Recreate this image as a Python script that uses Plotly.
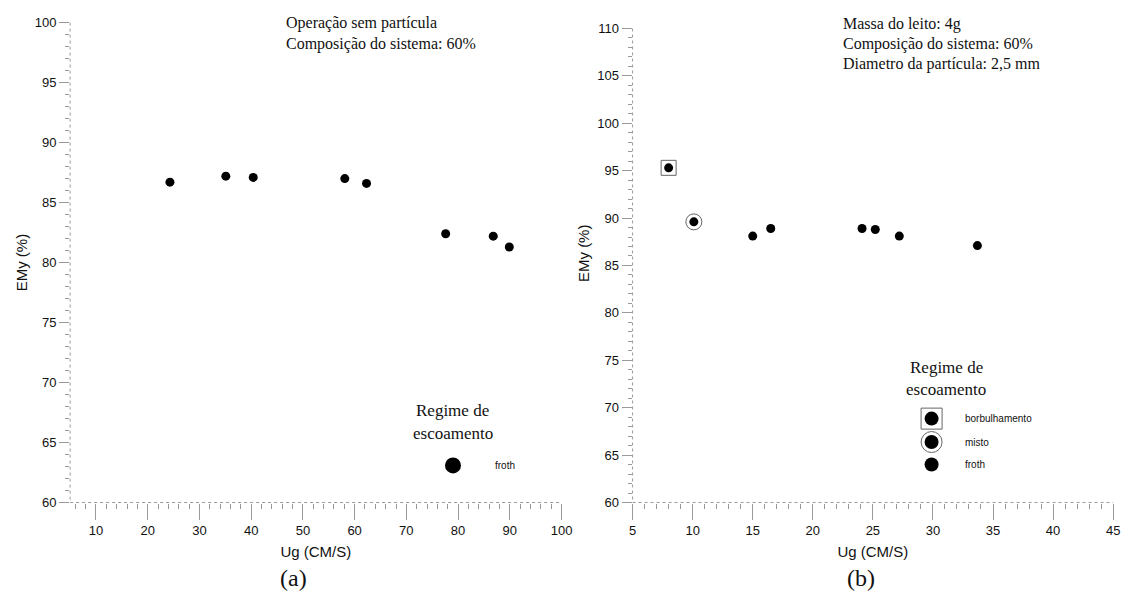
import plotly.graph_objects as go

# Panel (a): operation without particles
ug_a = [24.3, 35.1, 40.4, 58.1, 62.3, 77.6, 86.8, 89.9]
emv_a = [86.7, 87.2, 87.1, 87.0, 86.6, 82.4, 82.2, 81.3]

# Panel (b): bed with particles, by flow regime
ug_b_borb = [8.0]
emv_b_borb = [95.3]
ug_b_misto = [10.1]
emv_b_misto = [89.6]
ug_b_froth = [15.0, 16.5, 24.1, 25.2, 27.2, 33.7]
emv_b_froth = [88.1, 88.9, 88.9, 88.8, 88.1, 87.1]

W, H = 1136, 610


def px(x):
    return x / W


def py(y):
    return 1 - y / H


SANS = "Liberation Sans, Arial, sans-serif"
SERIF = "Liberation Serif, Times New Roman, serif"
AX = "#9a9a9a"
RING = "#666666"

fig = go.Figure()

dot = dict(color="black", size=9, opacity=1, line=dict(width=0))

fig.add_trace(go.Scatter(x=ug_a, y=emv_a, mode="markers", marker=dot,
                         xaxis="x", yaxis="y", showlegend=False))

fig.add_trace(go.Scatter(x=ug_b_borb, y=emv_b_borb, mode="markers",
                         marker=dict(symbol="square-open", size=15, color=RING,
                                     line=dict(color=RING, width=1)),
                         xaxis="x2", yaxis="y2", showlegend=False))
fig.add_trace(go.Scatter(x=ug_b_misto, y=emv_b_misto, mode="markers",
                         marker=dict(symbol="circle-open", size=16, color=RING,
                                     line=dict(color=RING, width=1)),
                         xaxis="x2", yaxis="y2", showlegend=False))
for xs, ys in [(ug_b_borb, emv_b_borb), (ug_b_misto, emv_b_misto),
               (ug_b_froth, emv_b_froth)]:
    fig.add_trace(go.Scatter(x=xs, y=ys, mode="markers", marker=dot,
                             xaxis="x2", yaxis="y2", showlegend=False))

# Legend keys on a full-page overlay axis (pixel units)
leg_x = [455, 940, 940, 940]
leg_y = [470, 422, 446, 469]
fig.add_trace(go.Scatter(x=[940], y=[422], mode="markers",
                         marker=dict(symbol="square-open", size=21, color=RING,
                                     line=dict(color=RING, width=1)),
                         xaxis="x3", yaxis="y3", showlegend=False))
fig.add_trace(go.Scatter(x=[940], y=[446], mode="markers",
                         marker=dict(symbol="circle-open", size=21, color=RING,
                                     line=dict(color=RING, width=1)),
                         xaxis="x3", yaxis="y3", showlegend=False))
fig.add_trace(go.Scatter(x=leg_x, y=leg_y, mode="markers",
                         marker=dict(color="black", size=[16, 14, 14, 14],
                                     opacity=1, line=dict(width=0)),
                         xaxis="x3", yaxis="y3", showlegend=False))

dom_a_x = [px(67), px(565)]
dom_b_x = [px(637), px(1124)]
dom_a_y = [py(508), py(16)]
dom_b_y = [py(508), py(22)]

common = dict(showgrid=False, zeroline=False, showline=False,
              ticks="outside", tickcolor=AX, tickwidth=1,
              tickfont=dict(family=SANS, size=13, color="#111"))
xtitle = dict(text="Ug (CM/S)", font=dict(family=SANS, size=15, color="#111"),
              standoff=9)

fig.update_layout(
    width=W, height=H, margin=dict(l=0, r=0, t=0, b=0),
    paper_bgcolor="white", plot_bgcolor="rgba(0,0,0,0)",
    xaxis=dict(domain=dom_a_x, anchor="y", range=[5, 100], dtick=10, tick0=0,
               ticklen=16, minor=dict(dtick=2, ticklen=5, tickcolor=AX, ticks="outside"),
               title=xtitle, **common),
    yaxis=dict(domain=dom_a_y, anchor="x", range=[60, 100], dtick=5,
               ticklen=10, minor=dict(dtick=1, ticklen=4, tickcolor=AX, ticks="outside"),
               **common),
    xaxis2=dict(domain=dom_b_x, anchor="y2", range=[5, 45], dtick=5, tick0=0,
                ticklen=16, minor=dict(dtick=1, ticklen=5, tickcolor=AX, ticks="outside"),
                title=xtitle, **common),
    yaxis2=dict(domain=dom_b_y, anchor="x2", range=[60, 110], dtick=5,
                ticklen=10, minor=dict(dtick=1, ticklen=4, tickcolor=AX, ticks="outside"),
                **common),
    xaxis3=dict(domain=[0, 1], range=[0, W], visible=False, fixedrange=True),
    yaxis3=dict(domain=[0, 1], range=[H, 0], visible=False, fixedrange=True,
                anchor="x3"),
)

# Dotted axis lines
for x0, x1, y0, y1 in [(67, 565, 508, 508), (67, 67, 16, 508),
                       (637, 1124, 508, 508), (637, 637, 22, 508)]:
    fig.add_shape(type="line", xref="paper", yref="paper",
                  x0=px(x0), x1=px(x1), y0=py(y0), y1=py(y1),
                  line=dict(color=AX, width=1, dash="dot"))

ann = []


def text(x, y, s, font, size, xanchor="left", angle=0, color="#111"):
    ann.append(dict(x=px(x), y=py(y), xref="paper", yref="paper", text=s,
                    showarrow=False, xanchor=xanchor, yanchor="middle",
                    textangle=angle,
                    font=dict(family=font, size=size, color=color)))


text(18, 262, "EMy (%)", SANS, 15, xanchor="center", angle=-90)
text(588, 252, "EMy (%)", SANS, 15, xanchor="center", angle=-90)

text(284, 16, "Operação sem partícula", SERIF, 16)
text(284, 38, "Composição do sistema: 60%", SERIF, 16)
text(848, 17, "Massa do leito: 4g", SERIF, 16)
text(848, 38, "Composição do sistema: 60%", SERIF, 16)
text(848, 58, "Diametro da partícula: 2,5 mm", SERIF, 16)

text(455, 414, "Regime de", SERIF, 17, xanchor="center")
text(455, 437, "escoamento", SERIF, 17, xanchor="center")
text(496, 470, "froth", SANS, 10)

text(955, 370, "Regime de", SERIF, 17, xanchor="center")
text(955, 392, "escoamento", SERIF, 17, xanchor="center")
text(972, 422, "borbulhamento", SANS, 10)
text(972, 446, "misto", SANS, 10)
text(972, 469, "froth", SANS, 10)

text(293, 585, "(a)", SERIF, 24, xanchor="center")
text(868, 585, "(b)", SERIF, 24, xanchor="center")

fig.update_layout(annotations=ann)

fig.write_html("out.html")
